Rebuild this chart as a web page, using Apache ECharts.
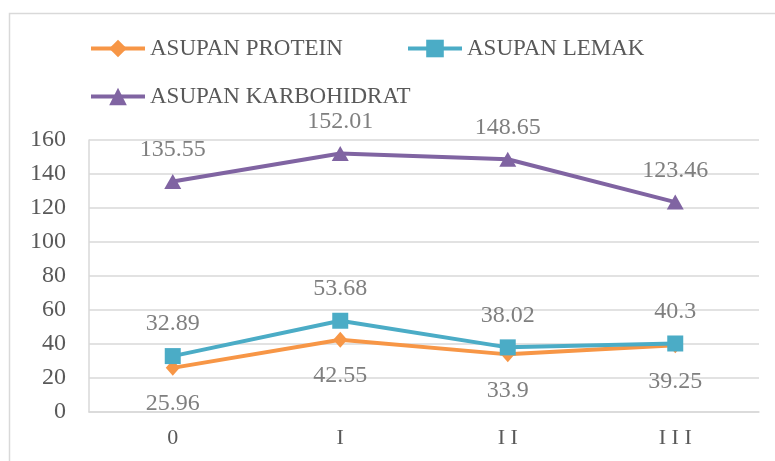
<!DOCTYPE html>
<html>
<head>
<meta charset="utf-8">
<script src="https://cdn.jsdelivr.net/npm/echarts@6/dist/echarts.min.js"></script>
<style>
html,body{margin:0;padding:0;background:#fff;}
#c{width:775px;height:461px;}
</style>
</head>
<body>
<div id="c"></div>
<script>
var categories = ['0', 'I', 'II', 'III'];
var seriesNames = ['ASUPAN PROTEIN', 'ASUPAN LEMAK', 'ASUPAN KARBOHIDRAT'];
var protein = [25.96, 42.55, 33.9, 39.25];
var lemak = [32.89, 53.68, 38.02, 40.3];
var karbohidrat = [135.55, 152.01, 148.65, 123.46];
var yMin = 0, yMax = 160, yStep = 20;

var FONT = '"Liberation Serif", "DejaVu Serif", serif';
var labelStyle = {color: '#7f7f7f', fontFamily: FONT, fontSize: 24};

var chart = echarts.init(document.getElementById('c'), null, {renderer: 'canvas'});
function legendCfg(names, left, top) {
  return {
    data: names, left: left, top: top, padding: 0, orient: 'horizontal',
    itemWidth: 54, itemHeight: 22, itemGap: 5,
    lineStyle: {width: 4},
    textStyle: {color: '#595959', fontFamily: FONT, fontSize: 23, padding: [0,0,0,0]}
  };
}
chart.setOption({
  animation: false,
  backgroundColor: '#ffffff',
  graphic: [{
    type: 'rect', left: 7, top: 11, z: -10,
    shape: {width: 800, height: 500},
    style: {fill: 'none', stroke: '#d9d9d9', lineWidth: 1.5}
  }],
  legend: [
    legendCfg([seriesNames[0]], 89, 37),
    legendCfg([seriesNames[1]], 406, 37),
    legendCfg([seriesNames[2]], 89, 85)
  ],
  grid: {left: 89, right: 16, top: 140, bottom: 49, containLabel: false},
  xAxis: {
    type: 'category', data: categories, boundaryGap: true,
    axisLine: {show: true, lineStyle: {color: '#d9d9d9', width: 1.5}},
    axisTick: {show: false},
    axisLabel: {color: '#595959', fontFamily: FONT, fontSize: 22, margin: 15,
      formatter: function(v){ return v.split('').join(' '); }}
  },
  yAxis: {
    type: 'value', min: yMin, max: yMax, interval: yStep,
    axisLine: {show: true, lineStyle: {color: '#d9d9d9', width: 1.5}},
    axisTick: {show: false},
    splitLine: {lineStyle: {color: '#d9d9d9', width: 1.5}},
    axisLabel: {color: '#595959', fontFamily: FONT, fontSize: 24, margin: 23}
  },
  series: [
    {
      name: seriesNames[0], type: 'line', data: protein,
      color: '#f79646', symbol: 'diamond', symbolSize: [14, 16],
      lineStyle: {width: 4, color: '#f79646'},
      itemStyle: {color: '#f79646'},
      label: Object.assign({show: true, position: 'bottom', distance: 16}, labelStyle),
      z: 2
    },
    {
      name: seriesNames[1], type: 'line', data: lemak,
      color: '#4bacc6', symbol: 'rect', symbolSize: 16,
      lineStyle: {width: 4, color: '#4bacc6'},
      itemStyle: {color: '#4bacc6'},
      label: Object.assign({show: true, position: 'top', distance: 12}, labelStyle),
      z: 3
    },
    {
      name: seriesNames[2], type: 'line', data: karbohidrat,
      color: '#8064a2', symbol: 'triangle', symbolSize: [17, 15],
      lineStyle: {width: 4, color: '#8064a2'},
      itemStyle: {color: '#8064a2'},
      label: Object.assign({show: true, position: 'top', distance: 12}, labelStyle),
      z: 4
    }
  ]
});
</script>
</body>
</html>
